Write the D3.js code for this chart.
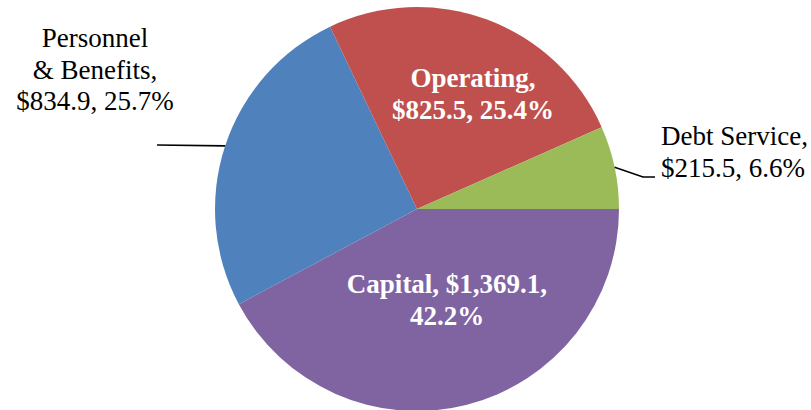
<!DOCTYPE html>
<html lang="en">
<head>
    <meta charset="utf-8" />
    <title>Budget pie</title>
    <script src="https://d3js.org/d3.v7.min.js"></script>
    <style>
        body { margin: 0; background: #fff; }
        text { font-family: "Liberation Serif", "DejaVu Serif", serif; }
    </style>
</head>
<body>
    <div id="chart"></div>
    <script>
        // data, in drawing order (clockwise from 3 o'clock)
        const categories = ["Capital", "Personnel & Benefits", "Operating", "Debt Service"];
        const values = [1369.1, 834.9, 825.5, 215.5];
        const percents = [42.2, 25.7, 25.4, 6.6];
        const colors = ["#8064A2", "#4F81BD", "#C0504D", "#9BBB59"];
        const labelLines = [
            ["Capital, $1,369.1,", "42.2%"],
            ["Personnel", "& Benefits,", "$834.9, 25.7%"],
            ["Operating,", "$825.5, 25.4%"],
            ["Debt Service,", "$215.5, 6.6%"]
        ];

        const width = 811, height = 410;
        const cx = 417, cy = 209, r = 202;

        const svg = d3.select("#chart")
            .append("svg")
            .attr("width", width)
            .attr("height", height);

        const g = svg.append("g")
            .attr("transform", `translate(${cx},${cy})`);

        const pie = d3.pie()
            .sort(null)
            .value(d => d)
            .startAngle(Math.PI / 2)
            .endAngle(Math.PI / 2 + 2 * Math.PI);

        const arcs = pie(values);
        const arc = d3.arc().innerRadius(0).outerRadius(r);

        g.selectAll("path.slice")
            .data(arcs)
            .enter().append("path")
            .attr("class", "slice")
            .attr("d", arc)
            .attr("fill", (d, i) => colors[i]);

        // label settings: inside (white bold) or outside (black with leader)
        const labelCfg = [
            { x: 447, y: 293, anchor: "middle", inside: true },
            { x: 95, y: 47, anchor: "middle", inside: false, leader: [[157, 145]] },
            { x: 473, y: 87, anchor: "middle", inside: true },
            { x: 661, y: 145, anchor: "start", inside: false, leader: [[643, 177], [655, 177]] }
        ];
        const lineH = 31.5;

        arcs.forEach((a, i) => {
            const cfg = labelCfg[i];
            if (cfg.leader) {
                const mid = (a.startAngle + a.endAngle) / 2;
                const p0 = [cx + r * Math.sin(mid), cy - r * Math.cos(mid)];
                svg.append("path")
                    .attr("d", d3.line()([p0, ...cfg.leader]))
                    .attr("fill", "none")
                    .attr("stroke", "#000")
                    .attr("stroke-width", 1.6);
            }
            const t = svg.append("text")
                .attr("text-anchor", cfg.anchor)
                .attr("font-size", 27)
                .attr("font-weight", cfg.inside ? "bold" : "normal")
                .attr("fill", cfg.inside ? "#fff" : "#000");
            labelLines[i].forEach((s, k) => {
                t.append("tspan")
                    .attr("x", cfg.x)
                    .attr("y", cfg.y + k * lineH)
                    .text(s);
            });
        });
    </script>
</body>
</html>
